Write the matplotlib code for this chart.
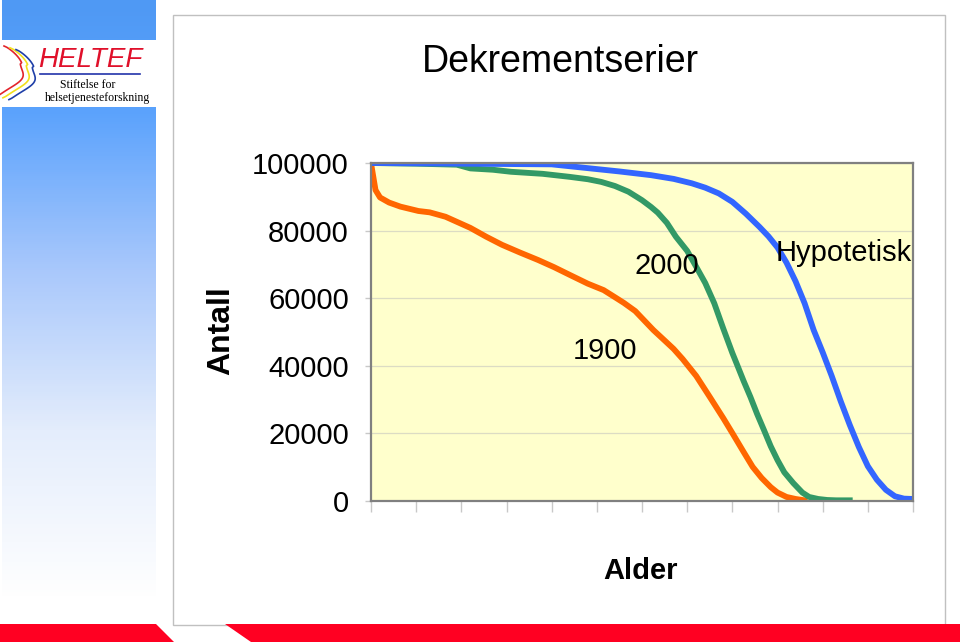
import numpy as np
import matplotlib
matplotlib.use('Agg')
import matplotlib.pyplot as plt
from matplotlib.colors import LinearSegmentedColormap
from matplotlib.patches import Rectangle, Polygon

plt.rcParams['font.family'] = ['Liberation Sans', 'DejaVu Sans']

# data (age, number alive out of 100000)
age_1900 = [0, 1, 2, 4, 6.5, 10.5, 13, 16.5, 19, 22, 25.5, 29, 33, 37, 40.5, 44, 48,
            51.5, 54, 56, 58.5, 61, 62.5, 65, 67, 69, 72, 75, 78, 80, 82.5, 84.5,
            86.5, 88.5, 90, 92, 94, 96]
val_1900 = [100000, 92000, 89800, 88300, 87100, 85800, 85400, 84100, 82600, 80800,
            78200, 75800, 73500, 71300, 69200, 66900, 64300, 62400, 60300, 58600,
            56200, 52700, 50600, 47500, 45000, 42000, 37000, 30800, 24500, 20100,
            14500, 10100, 6800, 4100, 2500, 1200, 600, 200]

age_2000 = [0, 10, 19, 22, 27, 31, 38, 44, 48, 51, 54, 57, 60, 62, 63.5, 65.5, 67.5,
            70, 72, 74, 76, 78, 80, 81, 82.5, 84, 85.5, 87, 88.5, 90, 91.5, 93.5,
            95.5, 97, 99, 101, 103, 106]
val_2000 = [100000, 99800, 99500, 98400, 98000, 97400, 96800, 95900, 95200, 94400,
            93200, 91500, 89000, 87000, 85300, 82300, 78200, 74000, 69300, 64500,
            58500, 51000, 43800, 40500, 35500, 30800, 25700, 21000, 16200, 12100,
            8500, 5300, 2500, 1200, 600, 300, 200, 200]

age_hyp = [0, 40, 50, 55, 62, 67, 71, 74, 77, 80, 83, 86, 88, 90, 92, 94, 96, 98,
           100, 102, 104, 106, 108, 110, 112, 114, 116, 118, 120]
val_hyp = [100000, 99600, 98200, 97500, 96400, 95300, 94000, 92700, 91000, 88500,
           85000, 81100, 78300, 75000, 70500, 65000, 58500, 50600, 44000, 37000,
           29500, 22500, 16000, 10300, 6300, 3300, 1400, 700, 600]

yticks = [0, 20000, 40000, 60000, 80000, 100000]
xticks = list(range(0, 121, 10))

W, H = 960, 642
fig = plt.figure(figsize=(W / 100, H / 100), dpi=100)
fig.patch.set_facecolor('white')

# slide background layer in pixel coordinates
bg = fig.add_axes([0, 0, 1, 1], zorder=0)
bg.set_xlim(0, W)
bg.set_ylim(H, 0)
bg.axis('off')

cmap = LinearSegmentedColormap.from_list('side', [
    (0.0, '#4f99f4'), (0.18, '#5aa2fd'), (0.45, '#a9c8fb'),
    (0.72, '#e4edfc'), (1.0, '#ffffff')])
grad = np.linspace(0, 1, 300).reshape(-1, 1)
bg.imshow(grad, cmap=cmap, extent=[2, 156, 600, 0], aspect='auto', zorder=1)

# logo box
bg.add_patch(Rectangle((0, 40), 156, 67, facecolor='white', edgecolor='none', zorder=2))
t = np.linspace(0, 1, 40)
for off, col in [(0, '#e3242b'), (6, '#f2e01c'), (12, '#1f3fa8')]:
    px = off + 4 + 22 * np.sin(np.pi * t) ** 0.8 - 6 * t
    py = 46 + 6 * (off / 6) * 0.3 + 50 * t
    bg.plot(px + 2 * np.sin(12 * t) * (t > 0.35), py, color=col, lw=1.2, zorder=3)
bg.text(90, 60, 'HELTEF', color='#e0102a', fontsize=20, style='italic',
        ha='center', va='center', zorder=3)
bg.plot([40, 140], [74, 74], color='#2233aa', lw=1.2, zorder=3)
bg.text(88, 85.5, 'Stiftelse for', family='Liberation Serif', fontsize=8.5,
        ha='center', va='center', zorder=3)
bg.text(98, 98, 'helsetjenesteforskning', family='Liberation Serif', fontsize=8.5,
        ha='center', va='center', zorder=3)

# chart frame
bg.add_patch(Rectangle((173, 15), 772, 610, facecolor='white', edgecolor='#c0c0c0',
                       lw=1, zorder=2))
# red band at the bottom
bg.add_patch(Polygon([(0, 624), (156, 624), (174, 642), (0, 642)],
                     facecolor='#ff0022', edgecolor='none', zorder=3))
bg.add_patch(Polygon([(225, 624), (960, 624), (960, 642), (251, 642)],
                     facecolor='#ff0022', edgecolor='none', zorder=3))

bg.text(560, 62, 'Dekrementserier', fontsize=27, ha='center', va='center', zorder=3)
bg.text(221, 331, 'Antall', fontsize=23, fontweight='bold', rotation=90,
        ha='center', va='center', zorder=3)
bg.text(641, 571, 'Alder', fontsize=21, fontweight='bold', ha='center',
        va='center', zorder=3)

# the chart
ax = fig.add_axes([371 / W, 1 - 501 / H, 542 / W, 338 / H], zorder=5)
ax.set_facecolor('#ffffcc')
ax.plot(age_1900, val_1900, color='#ff6600', lw=4.2, solid_joinstyle='round')
ax.plot(age_2000, val_2000, color='#339966', lw=4.2, solid_joinstyle='round')
ax.plot(age_hyp, val_hyp, color='#3366ff', lw=4.2, solid_joinstyle='round')

ax.set_xlim(0, 120)
ax.set_ylim(0, 100000)
ax.set_xticks(xticks)
ax.set_xticklabels([])
ax.set_yticks(yticks)
ax.set_yticklabels([str(v) for v in yticks], fontsize=21)
ax.tick_params(axis='x', length=8, color='#c8c8c8', width=1)
ax.tick_params(axis='y', length=4, color='#c8c8c8', width=1, pad=12)
ax.yaxis.grid(True, color='#dcdcc4', lw=0.9)
ax.set_axisbelow(True)
for s in ax.spines.values():
    s.set_color('#808080')
    s.set_linewidth(1.6)

ax.text(65.6, 69500, '2000', fontsize=21, ha='center', va='center')
ax.text(51.9, 44500, '1900', fontsize=21, ha='center', va='center')
ax.text(104.6, 73500, 'Hypotetisk', fontsize=21, ha='center', va='center')

fig.savefig('out.png', dpi=100)
